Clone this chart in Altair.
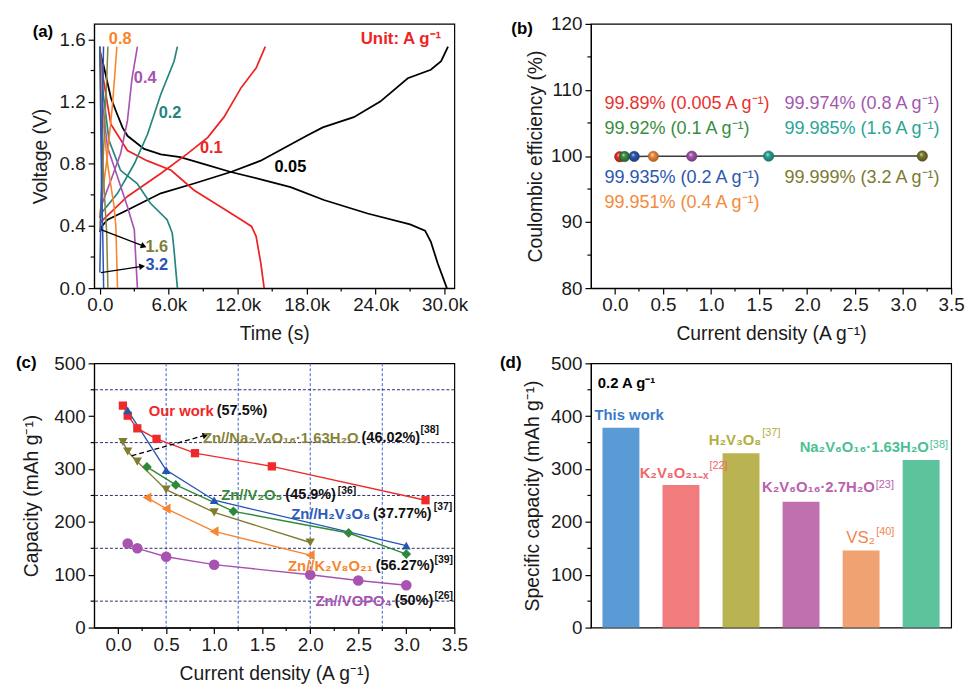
import altair as alt
import pandas as pd

FONT = "Liberation Sans"
PW, PH = 364, 267
TXT = "#111111"

# ================= (a) charge/discharge profiles =================
a_rates = ["0.05", "0.1", "0.2", "0.4", "0.8", "1.6", "3.2"]
a_colors = ["#000000", "#ee2424", "#23857d", "#a653b1", "#f7862d", "#86863b", "#2a55b4"]
a_widths = [1.8, 1.5, 1.4, 1.3, 1.3, 1.3, 1.3]

dis_005_t = [0, 300, 960, 1500, 1970, 2400, 3850, 5300, 7000, 9000, 11400, 14000, 16600, 19500, 23300, 27000, 28300, 28800, 29400, 30200]
dis_005_v = [1.52, 1.44, 1.225, 1.12, 1.034, 0.98, 0.896, 0.86, 0.843, 0.80, 0.747, 0.70, 0.65, 0.567, 0.48, 0.41, 0.37, 0.30, 0.16, 0.0]
chg_005_t = [0, 200, 670, 2400, 5300, 8200, 11400, 14000, 18000, 19400, 22100, 24400, 26800, 28800, 29700, 30300]
chg_005_v = [0.36, 0.40, 0.44, 0.503, 0.61, 0.673, 0.747, 0.82, 0.98, 1.034, 1.10, 1.20, 1.35, 1.405, 1.46, 1.554]

dis_01_t = [0, 300, 670, 960, 2400, 4100, 6200, 8200, 10500, 12300, 13200, 13600, 14000, 14300]
dis_01_v = [1.55, 1.35, 1.18, 1.055, 0.885, 0.82, 0.758, 0.63, 0.524, 0.44, 0.397, 0.333, 0.164, 0.0]
chg_01_t = [0, 2400, 5300, 7600, 9400, 10800, 12300, 13600, 14400]
chg_01_v = [0.42, 0.59, 0.737, 0.864, 0.97, 1.10, 1.29, 1.416, 1.554]

dis_02_t = [0, 230, 800, 1800, 3250, 4400, 5850, 6300, 6450, 6750]
dis_02_v = [1.55, 1.29, 0.95, 0.758, 0.673, 0.546, 0.44, 0.355, 0.25, 0.0]
chg_02_t = [0, 100, 1540, 3000, 4150, 5300, 6460, 6750]
chg_02_v = [0.45, 0.48, 0.61, 0.80, 0.99, 1.246, 1.46, 1.554]

dis_04_t = [0, 230, 670, 1540, 2400, 3000, 3100, 3270]
dis_04_v = [1.55, 1.18, 0.906, 0.715, 0.524, 0.376, 0.227, 0.0]
chg_04_t = [0, 100, 960, 1800, 2400, 2800, 3270]
chg_04_v = [0.45, 0.524, 0.694, 0.864, 1.076, 1.35, 1.554]

dis_08_t = [0, 230, 670, 1240, 1390, 1540]
dis_08_v = [1.554, 1.12, 0.80, 0.524, 0.40, 0.0]
chg_08_t = [0, 670, 1100, 1390, 1480]
chg_08_v = [0.47, 0.86, 1.18, 1.46, 1.554]

dis_16_t = [0, 150, 400, 600, 700]
dis_16_v = [1.554, 1.0, 0.6, 0.35, 0.0]
chg_16_t = [0, 300, 600, 700]
chg_16_v = [0.37, 0.85, 1.35, 1.554]

dis_32_t = [0, 100, 250, 330]
dis_32_v = [1.554, 0.9, 0.35, 0.0]
chg_32_t = [0, 100, 200, 320]
chg_32_v = [0.10, 0.5, 1.0, 1.554]

a_series = [
    ("0.05", dis_005_t, dis_005_v, chg_005_t, chg_005_v),
    ("0.1", dis_01_t, dis_01_v, chg_01_t, chg_01_v),
    ("0.2", dis_02_t, dis_02_v, chg_02_t, chg_02_v),
    ("0.4", dis_04_t, dis_04_v, chg_04_t, chg_04_v),
    ("0.8", dis_08_t, dis_08_v, chg_08_t, chg_08_v),
    ("1.6", dis_16_t, dis_16_v, chg_16_t, chg_16_v),
    ("3.2", dis_32_t, dis_32_v, chg_32_t, chg_32_v),
]
a_rows = []
for rate, dt, dv, ct, cv in a_series:
    for i, (t, v) in enumerate(zip(dt, dv)):
        a_rows.append({"rate": rate, "seg": rate + "-dis", "i": i, "x": t, "y": v})
    for i, (t, v) in enumerate(zip(ct, cv)):
        a_rows.append({"rate": rate, "seg": rate + "-chg", "i": i, "x": t, "y": v})
a_df = pd.DataFrame(a_rows)

a_xticks = [0, 6000, 12000, 18000, 24000, 30000]
a_xminor = [3000, 9000, 15000, 21000, 27000]
a_yticks = [0.0, 0.4, 0.8, 1.2, 1.6]
a_yminor = [0.2, 0.6, 1.0, 1.4]

a_lab_text = ["0.8", "0.4", "0.2", "0.1", "0.05", "1.6", "3.2"]
a_lab_x = [780, 2960, 5120, 8710, 15200, 3970, 3970]
a_lab_y = [1.60, 1.35, 1.127, 0.904, 0.777, 0.262, 0.151]
a_lab_col = ["#f7862d", "#a653b1", "#23857d", "#ee2424", "#000000", "#7f7f3c", "#2a55b4"]
a_arrow_id = ["p", "p", "q", "q"]
a_arrow_x = [90, 3820, 90, 3680]
a_arrow_y = [0.376, 0.27, 0.10, 0.14]
a_head_angle = [21, 351]

# ================= (b) coulombic efficiency =================
b_cur = [0.05, 0.1, 0.2, 0.4, 0.8, 1.6, 3.2]
b_ce = [99.89, 99.92, 99.935, 99.951, 99.974, 99.985, 99.999]
b_colors = ["#e8322f", "#3a8d40", "#2c57b0", "#f38a3c", "#a457ae", "#2aa596", "#7b7a30"]
b_labels = ["99.89% (0.005 A g⁻¹)", "99.92% (0.1 A g⁻¹)", "99.935% (0.2 A g⁻¹)", "99.951% (0.4 A g⁻¹)",
            "99.974% (0.8 A g⁻¹)", "99.985% (1.6 A g⁻¹)", "99.999% (3.2 A g⁻¹)"]
b_lab_x = [-0.109, -0.109, -0.109, -0.109, 1.765, 1.765, 1.765]
b_lab_y = [107.9, 104.15, 96.65, 92.9, 107.9, 104.15, 96.65]

# ================= (c) rate comparison =================
c_series = ["Our work", "H2V3O8", "Na2V6O16", "V2O5", "K2V8O21", "VOPO4"]
c_colors = ["#ee2a2a", "#2455b0", "#7e7c2e", "#2e8a3a", "#f78532", "#a852b2"]
c_shapes = ["square", "triangle-up", "triangle-down", "diamond", "triangle-left", "circle"]
c_sizes = [70, 115, 115, 95, 105, 85]
ow_x = [0.05, 0.1, 0.2, 0.4, 0.8, 1.6, 3.2]
ow_y = [420, 401, 377, 357, 330, 305, 241]
hvo_x = [0.1, 0.5, 1.0, 3.0]
hvo_y = [411, 298, 241, 155]
nvo_x = [0.05, 0.1, 0.2, 0.5, 1.0, 2.0]
nvo_y = [351, 333, 314, 261, 218, 161]
v2o5_x = [0.3, 0.6, 1.2, 2.4, 3.0]
v2o5_y = [304, 270, 220, 179, 139]
kvo_x = [0.3, 0.5, 1.0, 2.0]
kvo_y = [246, 225, 182, 137]
vopo_x = [0.1, 0.2, 0.5, 1.0, 2.0, 2.5, 3.0]
vopo_y = [159, 150, 134, 119, 100, 89, 80]
c_vgrid = [0.5, 1.25, 2.0, 2.75]
c_hgrid = [50, 150, 250, 350, 450]

c_rows = []
for s, xs, ys in zip(c_series, [ow_x, hvo_x, nvo_x, v2o5_x, kvo_x, vopo_x], [ow_y, hvo_y, nvo_y, v2o5_y, kvo_y, vopo_y]):
    for i, (x, y) in enumerate(zip(xs, ys)):
        c_rows.append({"s": s, "i": i, "x": x, "y": y})
c_df = pd.DataFrame(c_rows)

c_name_text = ["Our work", "Zn//Na₂V₆O₁₆·1.63H₂O", "Zn//V₂O₅", "Zn//H₂V₃O₈", "Zn//K₂V₈O₂₁", "Zn//VOPO₄"]
c_name_col = ["#ee2a2a", "#86843a", "#3a8a3a", "#2a5cb8", "#f7862d", "#a852b2"]
c_pct_text = ["(57.5%)", "(46.02%)", "(45.9%)", "(37.77%)", "(56.27%)", "(50%)"]
c_pct_x = [1.027, 2.534, 1.741, 2.654, 2.682, 2.879]
c_lab_y = [409, 359.5, 250, 215.6, 115.7, 50]
c_ref_text = ["", "[38]", "[36]", "[37]", "[39]", "[26]"]
c_ref_x = [0, 3.148, 2.286, 3.285, 3.293, 3.293]
c_ref_y = [0, 373, 258.8, 228.8, 128, 59.4]
c_arrow_x = [0.14, 0.91]
c_arrow_y = [325, 364]

# ================= (d) capacity bars =================
d_names = ["This work", "K2V8O21-x", "H2V3O8", "K2V6O16·2.7H2O", "VS2", "Na2V6O16·1.63H2O"]
d_vals = [378, 270, 330, 238, 146, 317]
d_colors = ["#5b9bd5", "#f27b7d", "#b9b451", "#c070ae", "#f0a273", "#5cc39c"]
d_df = pd.DataFrame({"x": d_names, "y": d_vals})
# label anchors (bar, main text, ref text, anchor dx from bar centre, y main, y ref, colour, size, weight)
d_labels = [
    ("K2V8O21-x", "K₂V₈O₂₁₋ₓ", "[22]", 28.3, 293, 306, "#f0686d", 15, "bold"),
    ("H2V3O8", "H₂V₃O₈", "[37]", 21, 354.7, 367.8, "#b3ae3f", 15, "bold"),
    ("K2V6O16·2.7H2O", "K₂V₆O₁₆·2.7H₂O", "[23]", 75, 265, 270.6, "#bb5fae", 15, "bold"),
    ("VS2", "VS₂", "[40]", 14.7, 169.6, 181.4, "#f0864f", 17, "normal"),
    ("Na2V6O16·1.63H2O", "Na₂V₆O₁₆·1.63H₂O", "[38]", 8.3, 341, 345, "#4cbf94", 15, "bold"),
]


# ================= helpers =================
def one(**cols):
    return pd.DataFrame({k: [v] for k, v in cols.items()})


def make_enc(xs, ys, ax_x, ax_y, xtype="quantitative"):
    def enc():
        return dict(
            x=alt.X("x", type=xtype, scale=xs, axis=ax_x),
            y=alt.Y("y:Q", scale=ys, axis=ax_y),
        )
    return enc


def text_at(enc, txt, x, y, color, size, weight="bold", align="left", dx=0):
    return alt.Chart(one(x=x, y=y, t=txt)).mark_text(
        font=FONT, fontSize=size, fontWeight=weight, color=color, align=align, baseline="middle", dx=dx
    ).encode(text="t:N", **enc())


def plabel(txt, px, py):
    return alt.Chart(one(t=txt)).mark_text(
        font=FONT, fontSize=17, fontWeight="bold", color="black", align="center", baseline="middle"
    ).encode(x=alt.value(px), y=alt.value(py), text="t:N")


def minor_x(vals, enc):
    e = enc()
    return alt.Chart(pd.DataFrame({"x": vals})).mark_rule(color="black", strokeWidth=1.2).encode(
        x=e["x"], y=alt.value(PH), y2=alt.value(PH + 3.5))


def minor_y(vals, enc):
    e = enc()
    return alt.Chart(pd.DataFrame({"y": vals})).mark_rule(color="black", strokeWidth=1.2).encode(
        y=e["y"], x=alt.value(0), x2=alt.value(-3.5))


def shade(hexc, f):
    h = hexc.lstrip("#")
    r, g, b = int(h[0:2], 16), int(h[2:4], 16), int(h[4:6], 16)
    if f >= 0:
        r, g, b = [int(c + (255 - c) * f) for c in (r, g, b)]
    else:
        r, g, b = [int(c * (1 + f)) for c in (r, g, b)]
    return "#%02x%02x%02x" % (r, g, b)


XT_PAD = 10

# ================= panel (a) =================
xs_a = alt.Scale(domain=[-500, 30850], nice=False, zero=False)
ys_a = alt.Scale(domain=[0, 1.7], nice=False, zero=False)
ax_ax = alt.Axis(title="Time (s)", values=a_xticks, titlePadding=XT_PAD, labelPadding=2,
                 labelExpr="datum.value == 0 ? '0.0' : format(datum.value / 1000, '.1f') + 'k'")
ax_ay = alt.Axis(title="Voltage (V)", values=a_yticks, format=".1f", titlePadding=9)
enc_a = make_enc(xs_a, ys_a, ax_ax, ax_ay)

a_lines = alt.Chart(a_df).mark_line().encode(
    color=alt.Color("rate:N", scale=alt.Scale(domain=a_rates, range=a_colors), legend=None),
    size=alt.Size("rate:O", scale=alt.Scale(domain=a_rates, range=a_widths), legend=None),
    detail="seg:N", order="i:Q", **enc_a())
a_arrows = alt.Chart(pd.DataFrame({"id": a_arrow_id, "x": a_arrow_x, "y": a_arrow_y})).mark_line(
    color="black", strokeWidth=1.3).encode(detail="id:N", **enc_a())
a_heads = [
    alt.Chart(one(x=a_arrow_x[2 * k + 1], y=a_arrow_y[2 * k + 1])).mark_point(
        shape="triangle-right", filled=True, color="black", size=45, opacity=1, angle=a_head_angle[k]
    ).encode(**enc_a())
    for k in range(2)
]
a_texts = [text_at(enc_a, t, x, y, c, 16.5) for t, x, y, c in zip(a_lab_text, a_lab_x, a_lab_y, a_lab_col)]
a_unit = text_at(enc_a, "Unit: A g⁻¹", 29700, 1.605, "#ee2424", 17, align="right")

panel_a = alt.layer(
    a_lines, a_arrows, *a_heads, *a_texts, a_unit,
    minor_x(a_xminor, enc_a), minor_y(a_yminor, enc_a), plabel("(a)", -51.7, 8.5)
).properties(width=PW, height=PH)

# ================= panel (b) =================
xs_b = alt.Scale(domain=[-0.25, 3.5], nice=False, zero=False)
ys_b = alt.Scale(domain=[80, 120], nice=False, zero=False)
ax_bx = alt.Axis(title="Current density (A g⁻¹)", values=[0, 0.5, 1.0, 1.5, 2.0, 2.5, 3.0, 3.5],
                 format=".1f", titlePadding=XT_PAD, labelPadding=2)
ax_by = alt.Axis(title="Coulombic efficiency (%)", values=[80, 90, 100, 110, 120], titlePadding=5)
enc_b = make_enc(xs_b, ys_b, ax_bx, ax_by)
b_df = pd.DataFrame({"x": b_cur, "y": b_ce, "k": list(range(len(b_cur)))})

b_line = alt.Chart(b_df).mark_line(color="#3a3a3a", strokeWidth=1.5).encode(**enc_b())
b_points = []
for k, col in enumerate(b_colors):
    grad = {
        "gradient": "radial", "x1": 0.38, "y1": 0.32, "r1": 0.0, "x2": 0.5, "y2": 0.5, "r2": 0.55,
        "stops": [{"offset": 0.0, "color": shade(col, 0.75)}, {"offset": 0.35, "color": col},
                  {"offset": 1.0, "color": shade(col, -0.35)}],
    }
    b_points.append(
        alt.Chart(b_df).transform_filter(alt.datum.k == k).mark_circle(
            size=110, opacity=1, fill=grad, stroke=shade(col, -0.3), strokeWidth=0.6
        ).encode(**enc_b())
    )
b_texts = [text_at(enc_b, t, x, y, c, 18.2, weight="normal")
           for t, x, y, c in zip(b_labels, b_lab_x, b_lab_y, b_colors)]
panel_b = alt.layer(
    b_line, *b_points, *b_texts,
    minor_x([0.25, 0.75, 1.25, 1.75, 2.25, 2.75, 3.25], enc_b), minor_y([85, 95, 105, 115], enc_b),
    plabel("(b)", -69.6, 5.2)
).properties(width=PW, height=PH)

# ================= panel (c) =================
xs_c = alt.Scale(domain=[-0.25, 3.5], nice=False, zero=False)
ys_c = alt.Scale(domain=[0, 500], nice=False, zero=False)
ax_cx = alt.Axis(title="Current density (A g⁻¹)", values=[0, 0.5, 1.0, 1.5, 2.0, 2.5, 3.0, 3.5],
                 format=".1f", titlePadding=XT_PAD, labelPadding=2)
ax_cy = alt.Axis(title="Capacity (mAh g⁻¹)", values=[0, 100, 200, 300, 400, 500], titlePadding=12)
enc_c = make_enc(xs_c, ys_c, ax_cx, ax_cy)

c_vg = alt.Chart(pd.DataFrame({"x": c_vgrid})).mark_rule(
    color="#3565d0", strokeDash=[3, 2], strokeWidth=1).encode(x=enc_c()["x"])
c_hg = alt.Chart(pd.DataFrame({"y": c_hgrid})).mark_rule(
    color="#2c2c70", strokeDash=[3, 2], strokeWidth=1).encode(y=enc_c()["y"])
c_color = alt.Color("s:N", scale=alt.Scale(domain=c_series, range=c_colors), legend=None)
c_lines = alt.Chart(c_df).mark_line(strokeWidth=1.4).encode(color=c_color, detail="s:N", order="i:Q", **enc_c())
c_pts = alt.Chart(c_df).mark_point(filled=True, opacity=1).encode(
    color=c_color,
    shape=alt.Shape("s:N", scale=alt.Scale(domain=c_series, range=c_shapes), legend=None),
    size=alt.Size("s:N", scale=alt.Scale(domain=c_series, range=c_sizes), legend=None),
    **enc_c())
c_arrow = alt.Chart(pd.DataFrame({"x": c_arrow_x, "y": c_arrow_y})).mark_line(
    color="black", strokeDash=[5, 3], strokeWidth=1.3).encode(**enc_c())
c_head = alt.Chart(one(x=c_arrow_x[1], y=c_arrow_y[1])).mark_point(
    shape="triangle-right", filled=True, color="black", size=45, opacity=1, angle=344).encode(**enc_c())
c_texts = []
for k in range(len(c_name_text)):
    c_texts.append(text_at(enc_c, c_name_text[k], c_pct_x[k], c_lab_y[k], c_name_col[k], 15,
                           align="right", dx=-3))
    c_texts.append(text_at(enc_c, c_pct_text[k], c_pct_x[k], c_lab_y[k], TXT, 14.6))
    if c_ref_text[k]:
        c_texts.append(text_at(enc_c, c_ref_text[k], c_ref_x[k], c_ref_y[k], TXT, 10.5))
panel_c = alt.layer(
    c_vg, c_hg, c_lines, c_pts, c_arrow, c_head, *c_texts,
    minor_x([0.25, 0.75, 1.25, 1.75, 2.25, 2.75, 3.25], enc_c), minor_y([50, 150, 250, 350, 450], enc_c),
    plabel("(c)", -68.6, 0)
).properties(width=PW, height=PH)

# ================= panel (d) =================
xs_d = alt.Scale(domain=d_names, paddingInner=0.385, paddingOuter=0.1925)
ys_d = alt.Scale(domain=[0, 500], nice=False, zero=False)
ax_dy = alt.Axis(title="Specific capacity (mAh g⁻¹)", values=[0, 100, 200, 300, 400, 500], titlePadding=8)
enc_d = make_enc(xs_d, ys_d, None, ax_dy, xtype="nominal")

d_bars = alt.Chart(d_df).mark_bar().encode(
    color=alt.Color("x:N", scale=alt.Scale(domain=d_names, range=d_colors), legend=None),
    **enc_d())
d_texts = [text_at(enc_d, "This work", "This work", 403, "#3a7bc8", 15, dx=-26.7)]
for bar, main, ref, adx, ym, yr, col, size, weight in d_labels:
    d_texts.append(text_at(enc_d, main, bar, ym, col, size, weight=weight, align="right", dx=adx - 0.5))
    d_texts.append(text_at(enc_d, ref, bar, yr, col, 11, weight="normal", dx=adx + 0.5))
d_rate = alt.Chart(one(t="0.2 A g⁻¹")).mark_text(
    font=FONT, fontSize=15, fontWeight="bold", color="black", align="left", baseline="middle"
).encode(x=alt.value(7), y=alt.value(20), text="t:N")
panel_d = alt.layer(
    d_bars, *d_texts, d_rate, minor_y([50, 150, 250, 350, 450], enc_d), plabel("(d)", -81, 0)
).properties(width=PW, height=PH)

chart = alt.concat(
    panel_a, panel_b, panel_c, panel_d, columns=2, spacing={"row": 76, "column": 138}, bounds="flush"
).resolve_scale(
    color="independent", size="independent", shape="independent"
).properties(
    padding={"left": 7, "top": 2.5, "right": 0, "bottom": 0}
).configure_view(
    stroke="black", strokeWidth=1.2
).configure_axis(
    labelFont=FONT, labelFontSize=19, labelColor="#1a1a1a", titleFont=FONT, titleFontSize=19.5,
    titleFontWeight="normal", titleColor="#1a1a1a", domainColor="black", domainWidth=1.2,
    tickColor="black", tickWidth=1.2, tickSize=6, labelPadding=3, grid=False,
    labelFlush=False, labelOverlap=False,
)

chart.save("out.html", embed_options={"renderer": "svg", "actions": False})
